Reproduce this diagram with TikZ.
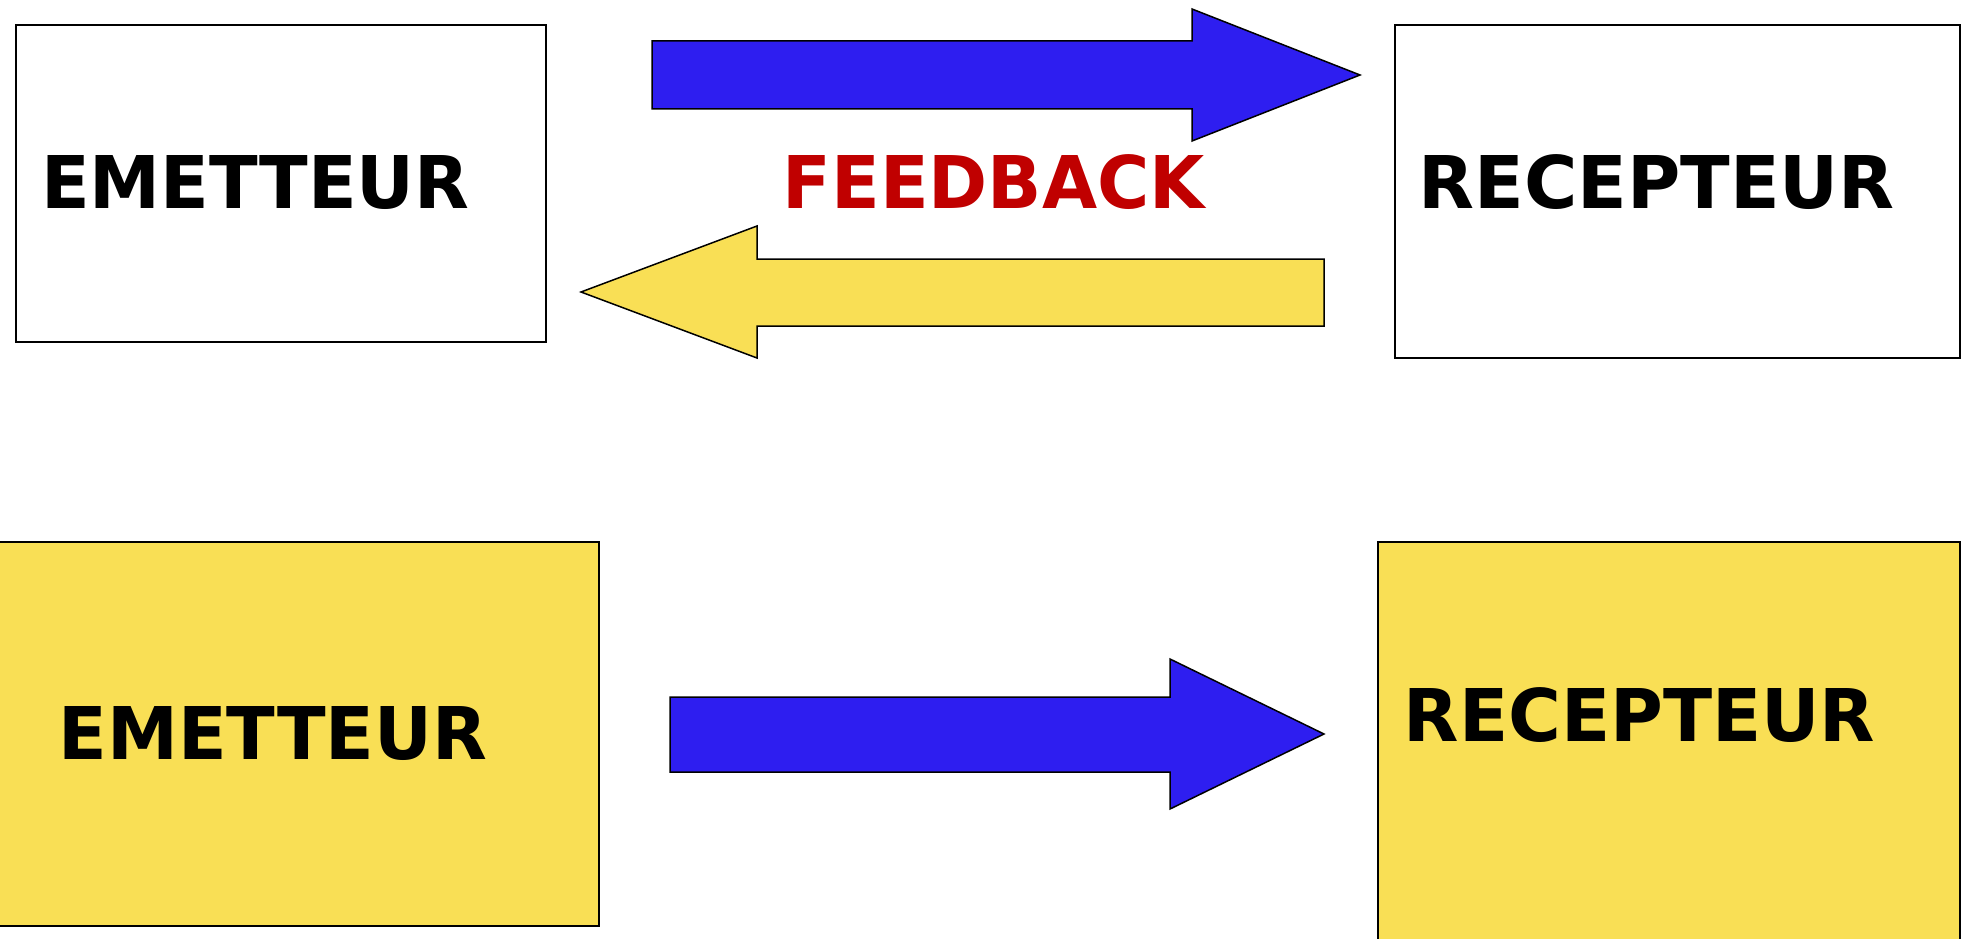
\documentclass[tikz,border=0pt]{standalone}
\usepackage{fontspec}
\setmainfont{DejaVu Sans}
\definecolor{arrowblue}{RGB}{46,30,240}
\definecolor{boxyellow}{RGB}{249,223,85}
\definecolor{fbred}{RGB}{192,0,0}
\begin{document}
\begin{tikzpicture}[x=1pt,y=-1pt,
  box/.style={draw=black,line width=1.5pt},
  blk/.style={draw=black,line width=1.5pt,line join=miter},
  lbl/.style={anchor=base west,inner sep=0pt,font=\fontsize{72.7}{80}\selectfont\bfseries}]
\useasboundingbox (0,0) rectangle (1964,939);
\clip (0,0) rectangle (1964,939);
% top row
\draw[box,fill=white] (16,25) rectangle (546,342);
\node[lbl] (em1) at (41,208) {\scalebox{0.98}[1]{EMETTEUR}};
\draw[box,fill=white] (1395,25) rectangle (1960,358);
\node[lbl] (re1) at (1418.5,208) {RECEPTEUR};
\draw[blk,fill=arrowblue] (652,41)--(1192,41)--(1192,9)--(1360,75)--(1192,141)--(1192,109)--(652,109)--cycle;
\draw[blk,fill=boxyellow] (1324,259)--(757,259)--(757,226)--(581,292)--(757,358)--(757,326)--(1324,326)--cycle;
\node[lbl,text=fbred] (fb) at (782.5,208) {\scalebox{0.98}[1]{FEEDBACK}};
% bottom row
\draw[box,fill=boxyellow] (-3,542) rectangle (599,926);
\node[lbl] (em2) at (58.5,759) {\scalebox{0.98}[1]{EMETTEUR}};
\draw[box,fill=boxyellow] (1378,542) rectangle (1960,950);
\node[lbl] (re2) at (1403.5,741) {\scalebox{0.99}[1]{RECEPTEUR}};
\draw[blk,fill=arrowblue] (670,697)--(1170,697)--(1170,659)--(1324,734)--(1170,809)--(1170,772)--(670,772)--cycle;
\end{tikzpicture}
\end{document}
